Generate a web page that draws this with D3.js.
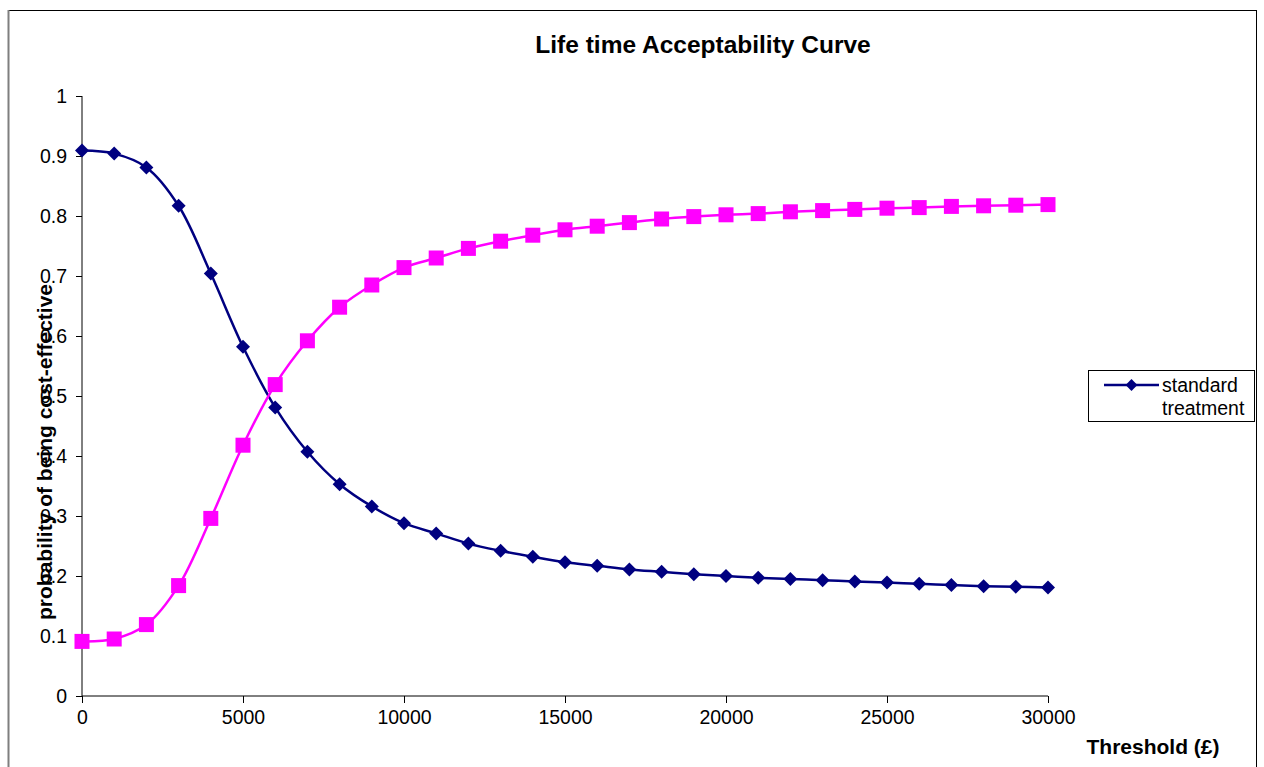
<!DOCTYPE html>
<html>
<head>
<meta charset="utf-8">
<script src="https://cdn.jsdelivr.net/npm/d3@7"></script>
<style>
  html, body { margin: 0; padding: 0; background: #fff; }
  svg { display: block; font-family: Arial, "Liberation Sans", sans-serif; }
</style>
</head>
<body>
<svg id="chart" width="1264" height="767"></svg>
<script>
// Thresholds (£) at which cost-effectiveness was evaluated
const thresholds = [0, 1000, 2000, 3000, 4000, 5000, 6000, 7000, 8000, 9000, 10000,
  11000, 12000, 13000, 14000, 15000, 16000, 17000, 18000, 19000, 20000,
  21000, 22000, 23000, 24000, 25000, 26000, 27000, 28000, 29000, 30000];

// Probability that standard treatment is cost-effective
const standardTreatment = [0.909, 0.904, 0.881, 0.817, 0.704, 0.582, 0.481, 0.407, 0.353, 0.316, 0.288,
  0.271, 0.254, 0.242, 0.232, 0.223, 0.217, 0.211, 0.207, 0.203, 0.200,
  0.197, 0.195, 0.193, 0.191, 0.189, 0.187, 0.185, 0.183, 0.182, 0.181];

// Probability that the alternative is cost-effective
const alternative = [0.091, 0.095, 0.119, 0.184, 0.296, 0.418, 0.519, 0.592, 0.648, 0.685, 0.714,
  0.730, 0.746, 0.758, 0.768, 0.777, 0.783, 0.789, 0.795, 0.799, 0.802,
  0.804, 0.807, 0.809, 0.811, 0.813, 0.814, 0.816, 0.817, 0.818, 0.819];

const xTicks = [0, 5000, 10000, 15000, 20000, 25000, 30000];
const yTicks = [0, 0.1, 0.2, 0.3, 0.4, 0.5, 0.6, 0.7, 0.8, 0.9, 1];

const titleText = "Life time Acceptability Curve";
const xLabel = "Threshold (£)";
const yLabel = "probability of being cost-effective";
const legendLabel = ["standard", "treatment"];

const svg = d3.select("#chart");

// Outer chart frame
svg.append("rect")
  .attr("x", 8.5).attr("y", 10.5)
  .attr("width", 1248).attr("height", 800)
  .attr("fill", "#fff").attr("stroke", "#000").attr("stroke-width", 1);
svg.append("line")
  .attr("x1", 8.5).attr("x2", 8.5).attr("y1", 10).attr("y2", 767)
  .attr("stroke", "#7f7f7f").attr("stroke-width", 2);

const x = d3.scaleLinear().domain([0, 30000]).range([82, 1048]);
const y = d3.scaleLinear().domain([0, 1]).range([696, 96]);

// Axes
const xAxis = svg.append("g")
  .attr("transform", `translate(0,${y(0)})`)
  .call(d3.axisBottom(x).tickValues(xTicks).tickSize(7).tickPadding(7)
    .tickFormat(d3.format("d")));
const yAxis = svg.append("g")
  .attr("transform", `translate(${x(0)},0)`)
  .call(d3.axisLeft(y).tickValues(yTicks).tickSize(6).tickPadding(9)
    .tickFormat(d => d === 0 || d === 1 ? d3.format("d")(d) : d3.format(".1f")(d)));

[xAxis, yAxis].forEach(g => {
  g.select(".domain").attr("stroke", "#000").attr("stroke-width", 1);
  g.selectAll(".tick line").attr("stroke", "#000");
  g.selectAll(".tick text")
    .attr("fill", "#000")
    .style("font-family", "Arial, 'Liberation Sans', sans-serif")
    .style("font-size", "19.5px");
});
xAxis.select(".domain").attr("d", `M${x(0)},0H${x(30000)}`);
yAxis.select(".domain").attr("d", `M0,${y(0)}V${y(1)}`);

// Title and axis titles
svg.append("text")
  .attr("x", 703).attr("y", 53)
  .attr("text-anchor", "middle")
  .style("font-size", "24.5px").style("font-weight", "bold")
  .text(titleText);

svg.append("text")
  .attr("x", 1153).attr("y", 754)
  .attr("text-anchor", "middle")
  .style("font-size", "21px").style("font-weight", "bold")
  .text(xLabel);

svg.append("text")
  .attr("transform", `translate(52,452) rotate(-90)`)
  .attr("text-anchor", "middle")
  .style("font-size", "21px").style("font-weight", "bold")
  .text(yLabel);

// Smoothed series lines
const line = d3.line()
  .x((d, i) => x(thresholds[i]))
  .y(d => y(d))
  .curve(d3.curveCatmullRom.alpha(0.5));

svg.append("path")
  .datum(standardTreatment)
  .attr("d", line)
  .attr("fill", "none").attr("stroke", "#000080").attr("stroke-width", 2.5);

svg.append("path")
  .datum(alternative)
  .attr("d", line)
  .attr("fill", "none").attr("stroke", "#ff00ff").attr("stroke-width", 2.5);

// Markers: diamonds for standard treatment, squares for the alternative
svg.append("g").selectAll("path")
  .data(standardTreatment)
  .join("path")
  .attr("transform", (d, i) => `translate(${x(thresholds[i])},${y(d)}) rotate(45)`)
  .attr("d", d3.symbol().type(d3.symbolSquare).size(98))
  .attr("fill", "#000080");

svg.append("g").selectAll("rect")
  .data(alternative)
  .join("rect")
  .attr("x", (d, i) => x(thresholds[i]) - 7.5)
  .attr("y", d => y(d) - 7.5)
  .attr("width", 15).attr("height", 15)
  .attr("fill", "#ff00ff");

// Legend
const legend = svg.append("g").attr("transform", "translate(1088,370)");
legend.append("rect")
  .attr("x", 0.5).attr("y", 0.5).attr("width", 166).attr("height", 51)
  .attr("fill", "#fff").attr("stroke", "#000");
legend.append("line")
  .attr("x1", 16).attr("x2", 71).attr("y1", 15).attr("y2", 15)
  .attr("stroke", "#000080").attr("stroke-width", 2.5);
legend.append("path")
  .attr("transform", "translate(43.5,15) rotate(45)")
  .attr("d", d3.symbol().type(d3.symbolSquare).size(70))
  .attr("fill", "#000080");
legend.selectAll("text.lbl")
  .data(legendLabel)
  .join("text")
  .attr("class", "lbl")
  .attr("x", 74).attr("y", (d, i) => 22 + i * 23)
  .style("font-size", "19.5px")
  .text(d => d);
</script>
</body>
</html>
